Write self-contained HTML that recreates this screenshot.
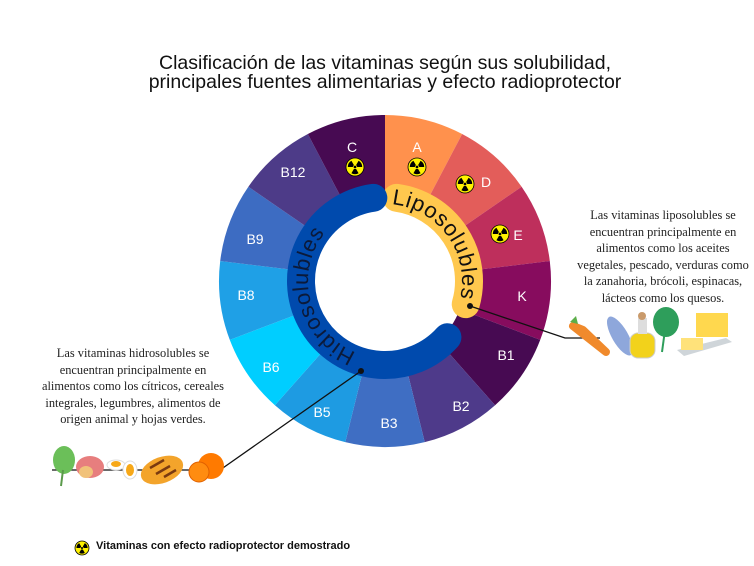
<!DOCTYPE html>
<html><head><meta charset="utf-8"><style>
html,body{margin:0;padding:0;background:#fff;}
body{width:754px;height:566px;position:relative;overflow:hidden;font-family:"Liberation Sans",sans-serif;}
.t{position:absolute;left:0;width:770px;text-align:center;top:54px;font-size:19.5px;line-height:19px;color:#111;}
.p{position:absolute;font-family:"Liberation Serif",serif;font-size:12.4px;line-height:16.6px;color:#222;text-align:center;white-space:nowrap;}
.leg{position:absolute;left:96px;top:540px;font-size:11px;font-weight:bold;color:#111;}
</style></head><body>
<div class="t">Clasificación de las vitaminas según sus solubilidad,<br>principales fuentes alimentarias y efecto radioprotector</div>
<div class="p" style="left:563px;top:207px;width:200px;">Las vitaminas liposolubles se<br>encuentran principalmente en<br>alimentos como los aceites<br>vegetales, pescado, verduras como<br>la zanahoria, brócoli, espinacas,<br>lácteos como los quesos.</div>
<div class="p" style="left:33px;top:345px;width:200px;">Las vitaminas hidrosolubles se<br>encuentran principalmente en<br>alimentos como los cítricos, cereales<br>integrales, legumbres, alimentos de<br>origen animal y hojas verdes.</div>
<div class="leg">Vitaminas con efecto radioprotector demostrado</div>
<svg id="s" width="754" height="566" style="position:absolute;left:0;top:0" xmlns="http://www.w3.org/2000/svg"></svg>
<script>
var cx=385,cy=281,R=166,r0=80;
function P(a,r){var t=(a-90)*Math.PI/180;return [cx+r*Math.cos(t),cy+r*Math.sin(t)];}
var cols=["#FF914D","#E35D5A","#BE2F5C","#870C5E","#470A52","#4E3A8A","#3F6EC3","#1E9BE2","#00CEFF","#1FA0E6","#3D6CC2","#4D3B88","#470A52"];
var s="",n=13,st=360/n;
for(var i=0;i<n;i++){var a=i*st,b=a+st;var p1=P(a,R),p2=P(b,R),p3=P(b,r0),p4=P(a,r0);
s+='<path d="M'+p1+' A'+R+' '+R+' 0 0 1 '+p2+' L'+p3+' A'+r0+' '+r0+' 0 0 0 '+p4+'Z" fill="'+cols[i]+'"/>';}
function arc(a,b,r){var p=P(a,r),q=P(b,r);return 'M'+p+' A'+r+' '+r+' 0 '+((b-a)>180?1:0)+' 1 '+q;}
s+='<circle cx="'+cx+'" cy="'+cy+'" r="70" fill="#fff"/>';
s+='<path d="'+arc(8,106,84)+'" stroke="#FFC84E" stroke-width="28" fill="none" stroke-linecap="round"/>';
s+='<path d="'+arc(132,352,84)+'" stroke="#004AAD" stroke-width="28" fill="none" stroke-linecap="round"/>';
s+='<defs><path id="lp" d="'+arc(5,125,77)+'"/><path id="hp" d="'+arc(202,340,77)+'"/></defs>';
s+='<text font-family="Liberation Sans,sans-serif" font-size="22" fill="#111" letter-spacing="0.8"><textPath href="#lp">Liposolubles</textPath></text>';
s+='<text font-family="Liberation Sans,sans-serif" font-size="22" fill="#0b1a3a" letter-spacing="0.8"><textPath href="#hp">Hidrosolubles</textPath></text>';
var L=[["A",417,147],["D",486,182],["E",518,235],["K",522,296],["B1",506,355],["B2",461,406],["B3",389,423],["B5",322,412],["B6",271,367],["B8",246,295],["B9",255,239],["B12",293,172],["C",352,147]];
L.forEach(function(l){s+='<text x="'+l[1]+'" y="'+(l[2]+5)+'" text-anchor="middle" font-size="14" fill="#fff" font-family="Liberation Sans,sans-serif">'+l[0]+'</text>';});
function rad(x,y,r){var o='<circle cx="'+x+'" cy="'+y+'" r="'+r+'" fill="#FFF200" stroke="#000" stroke-width="0.8"/>';
for(var k=0;k<3;k++){var a=k*120;var t1=(a-30-90)*Math.PI/180,t2=(a+30-90)*Math.PI/180,ri=r*0.25,ro=r*0.8;
o+='<path d="M'+(x+ri*Math.cos(t1))+','+(y+ri*Math.sin(t1))+' L'+(x+ro*Math.cos(t1))+','+(y+ro*Math.sin(t1))+' A'+ro+' '+ro+' 0 0 1 '+(x+ro*Math.cos(t2))+','+(y+ro*Math.sin(t2))+' L'+(x+ri*Math.cos(t2))+','+(y+ri*Math.sin(t2))+'Z" fill="#000" transform="rotate(180 '+x+' '+y+')"/>';}
return o+'<circle cx="'+x+'" cy="'+y+'" r="'+(r*0.15)+'" fill="#000"/>';}
s+=rad(355,167,9)+rad(417,167,9)+rad(465,184,9)+rad(500,234,9)+rad(82,548,7);
s+='<polyline points="470,306 565,338 600,338" stroke="#111" stroke-width="1.3" fill="none"/><circle cx="470" cy="306" r="3" fill="#111"/>';
s+='<polyline points="52,470 220,470 361,371" stroke="#111" stroke-width="1.3" fill="none"/><circle cx="361" cy="371" r="3" fill="#111"/>';
s+='<ellipse cx="64" cy="460" rx="11" ry="14" fill="#6BBF59"/><line x1="63" y1="470" x2="61" y2="486" stroke="#5a9a4a" stroke-width="2"/>';
s+='<ellipse cx="90" cy="467" rx="14" ry="11" fill="#E77E7E"/><ellipse cx="86" cy="472" rx="7" ry="6" fill="#F1C27A"/>';
s+='<ellipse cx="116" cy="465" rx="9" ry="5" fill="#fff" stroke="#ddd"/><ellipse cx="116" cy="464" rx="5" ry="3" fill="#F7A818"/>';
s+='<ellipse cx="130" cy="470" rx="7" ry="9" fill="#fff" stroke="#ddd"/><ellipse cx="130" cy="470" rx="4" ry="6" fill="#F7A818"/>';
s+='<ellipse cx="162" cy="470" rx="22" ry="13" fill="#F3A42B" transform="rotate(-20 162 470)"/><path d="M150,468 l14,-8 M156,474 l14,-8 M164,477 l12,-7" stroke="#7a3a10" stroke-width="2.5"/>';
s+='<circle cx="211" cy="466" r="13" fill="#FF7A00"/><circle cx="199" cy="472" r="10" fill="#FF8C10" stroke="#E06000"/>';
s+='<path d="M573,326 L606,352 L583,330 Z" fill="#F08A2C" stroke="#F08A2C" stroke-width="8" stroke-linejoin="round"/><path d="M570,322 l6,-6 l2,8z" fill="#5cae4a"/>';
s+='<ellipse cx="620" cy="336" rx="8" ry="22" fill="#8EA7DB" transform="rotate(-30 620 336)"/>';
s+='<rect x="630" y="333" width="25" height="25" rx="8" fill="#F2D21B" stroke="#ccc"/><rect x="638" y="318" width="9" height="16" fill="#ddd"/><circle cx="642" cy="316" r="4" fill="#C99A6B"/>';
s+='<ellipse cx="666" cy="322" rx="13" ry="15" fill="#2E9E5B"/><line x1="665" y1="330" x2="662" y2="352" stroke="#2E9E5B" stroke-width="2"/>';
s+='<path d="M677,350 L726,338 L732,342 L684,356Z" fill="#cfd5d9"/><rect x="696" y="313" width="32" height="24" fill="#FFD84E"/><rect x="681" y="338" width="22" height="12" fill="#FFE27A"/>';
document.getElementById("s").innerHTML=s;
</script>
</body></html>
